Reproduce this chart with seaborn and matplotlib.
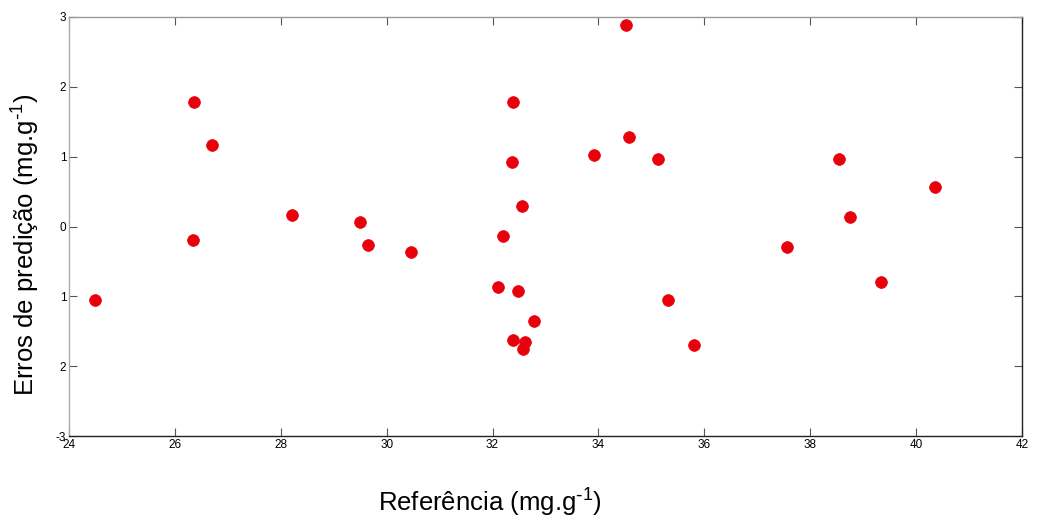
import matplotlib
matplotlib.use('Agg')
import pandas as pd
import seaborn as sns
import matplotlib.pyplot as plt

# Valores
referencia = [24.49, 26.36, 26.34, 26.70, 28.22, 29.50, 29.65, 30.46,
              32.11, 32.20, 32.39, 32.36, 32.55, 32.49, 32.39, 32.62,
              32.58, 32.79, 33.92, 34.53, 34.57, 35.12, 35.32, 35.80,
              37.57, 38.54, 38.76, 39.33, 40.35]
erros = [-1.05, 1.79, -0.20, 1.16, 0.17, 0.07, -0.26, -0.37,
         -0.86, -0.13, 1.79, 0.92, 0.29, -0.92, -1.63, -1.66,
         -1.75, -1.36, 1.02, 2.89, 1.28, 0.97, -1.05, -1.69,
         -0.30, 0.97, 0.14, -0.80, 0.56]

x_ticks = [24, 26, 28, 30, 32, 34, 36, 38, 40, 42]
y_ticks = [3, 2, 1, 0, -1, -2, -3]
y_tick_labels = ['3', '2', '1', '0', '1', '2', '-3']

df = pd.DataFrame({'Referencia': referencia, 'Erros': erros})

sns.set_style('ticks')
plt.rcParams['font.family'] = ['Liberation Sans', 'DejaVu Sans']
plt.rcParams['mathtext.default'] = 'regular'

fig = plt.figure(figsize=(10.38, 5.23), dpi=100)
ax = fig.add_axes([0.0665, 0.1663, 0.918, 0.8012])

sns.scatterplot(data=df, x='Referencia', y='Erros', ax=ax, color='#e8000b',
                s=72, edgecolor='#e8000b', linewidth=0.5, zorder=3)

ax.set_xlim(24, 42)
ax.set_ylim(-3, 3)
ax.set_xticks(x_ticks)
ax.set_xticklabels([str(t) for t in x_ticks],
                   family=['Liberation Sans Narrow', 'Liberation Sans'], fontsize=8.5)
ax.set_yticks(y_ticks)
ax.set_yticklabels(y_tick_labels, fontsize=8.5)

ax.tick_params(axis='both', direction='in', length=6, width=0.8, colors='#555555',
               labelcolor='black', pad=2, top=True, right=True)

ax.spines['top'].set_color('#999999')
ax.spines['left'].set_color('#aaaaaa')
ax.spines['bottom'].set_color('#222222')
ax.spines['right'].set_color('#222222')
for sp in ax.spines.values():
    sp.set_linewidth(1.0)

ax.set_xlabel('Referência (mg.g$^{\\text{-}1}$)', fontsize=18.5, color='black')
ax.set_ylabel('Erros de predição (mg.g$^{\\text{-}1}$)', fontsize=18.5, color='black')
ax.xaxis.set_label_coords(0.442, -0.12)
ax.yaxis.set_label_coords(-0.028, 0.456)

fig.savefig('out.png', dpi=100)
